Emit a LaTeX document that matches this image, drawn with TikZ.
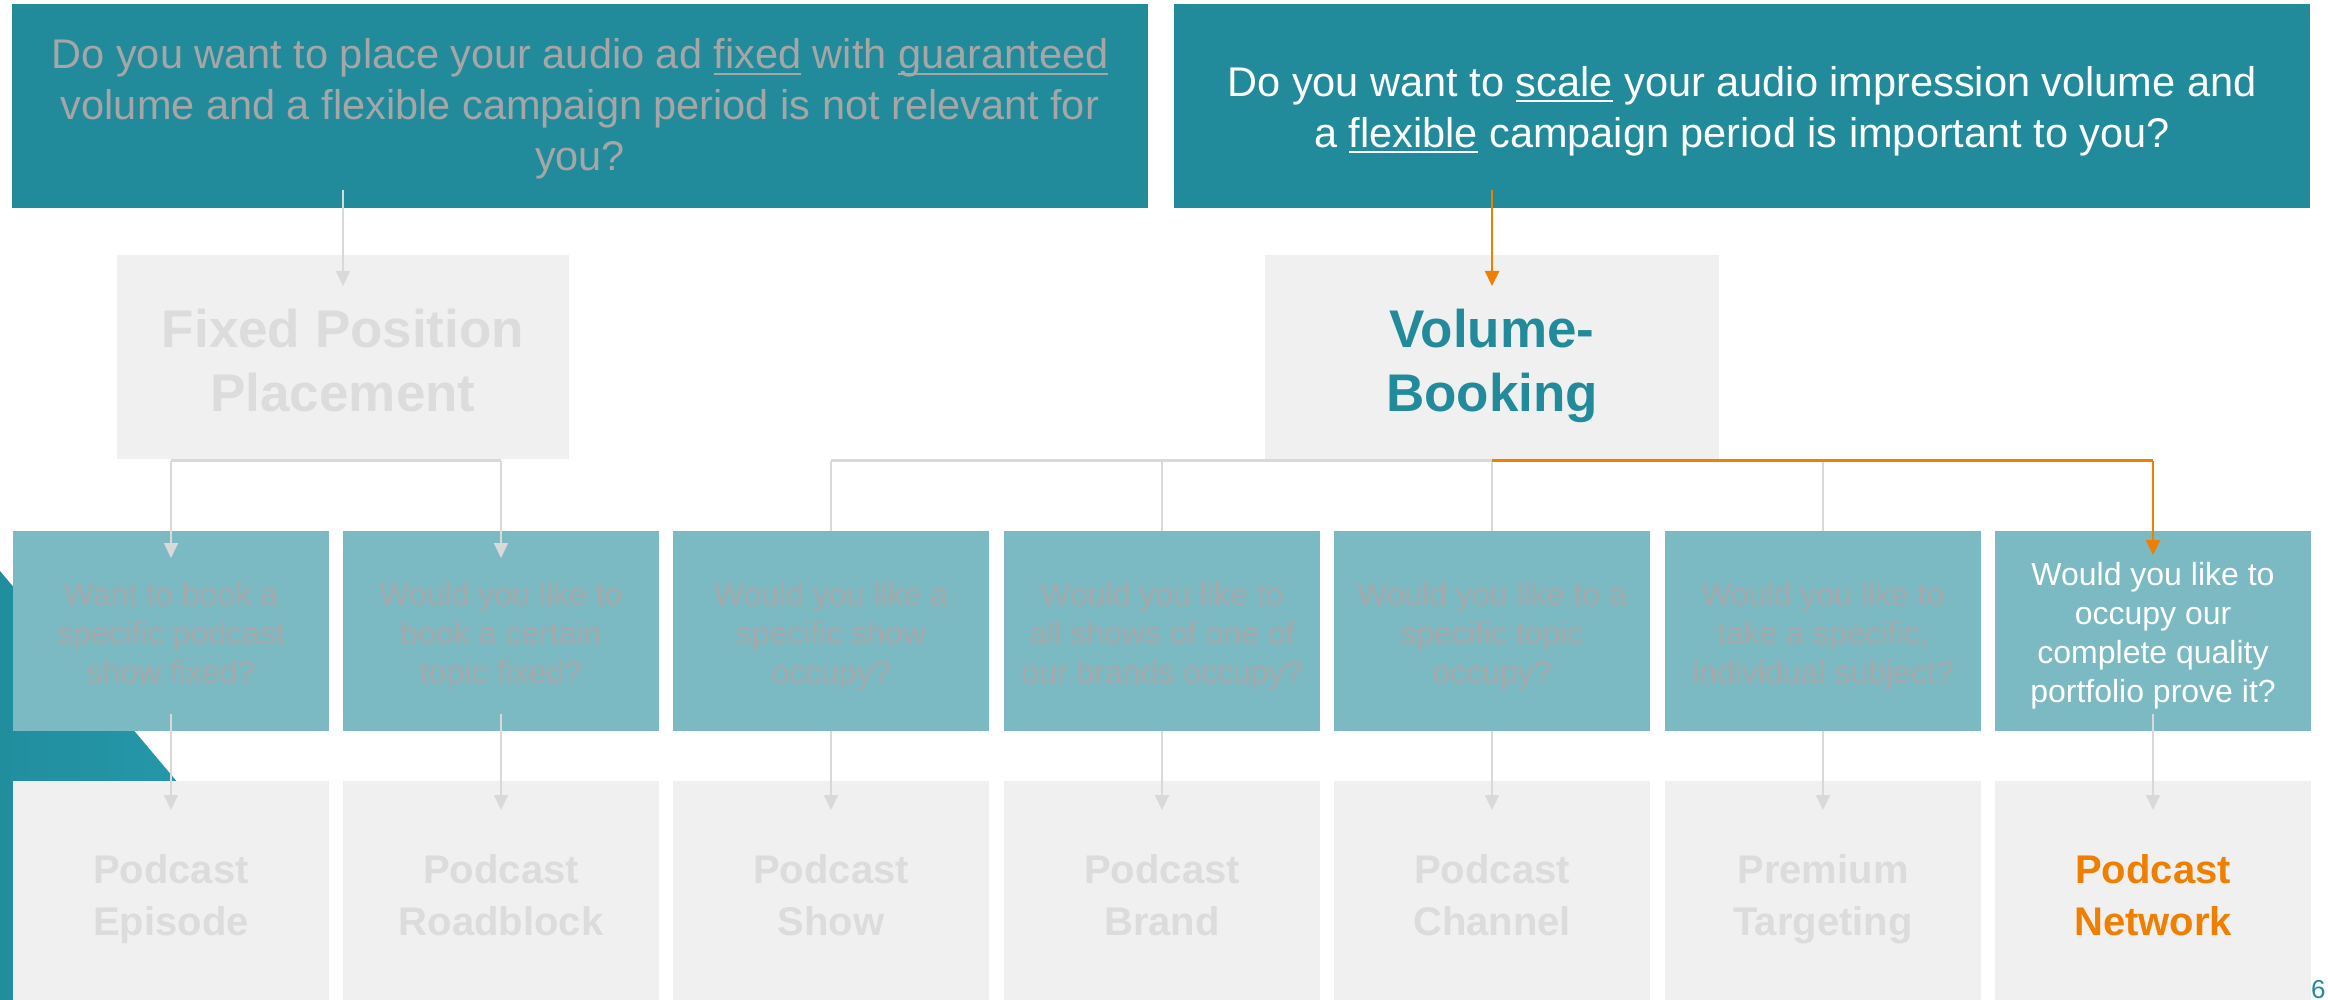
\documentclass[tikz,border=0pt]{standalone}
\usepackage{fontspec}
\setmainfont{Liberation Sans}
\usetikzlibrary{arrows.meta}
\definecolor{tealdark}{HTML}{218B9C}
\definecolor{teallight}{HTML}{7BB9C3}
\definecolor{boxgray}{HTML}{F0F0F0}
\definecolor{fadetext}{HTML}{A6A6A6}
\definecolor{fademid}{HTML}{A6A9AB}
\definecolor{fadelight}{HTML}{DCDCDC}
\definecolor{linegray}{HTML}{D9D9D9}
\definecolor{accent}{HTML}{EE7F00}
\definecolor{triA}{HTML}{218E9E}
\definecolor{triB}{HTML}{2599AA}
\newcommand\myul[1]{\setbox0=\hbox{#1}\rlap{\rule[-6pt]{\wd0}{2pt}}\box0\relax}
\newcommand\topstr[1]{\rule{0pt}{#1}}
\newcommand\botstr[1]{\rule[-#1]{0pt}{#1}}
\begin{document}
\begin{tikzpicture}[x=1pt,y=-1pt,
  every node/.style={inner sep=0pt, outer sep=0pt},
  qbox/.style={rectangle, fill=tealdark, anchor=north west, minimum width=1136pt, minimum height=204pt, align=center, font=\fontsize{41.5}{51}\selectfont},
  catbox/.style={rectangle, fill=boxgray, anchor=north west, minimum height=204pt, align=center, font=\bfseries\fontsize{53}{64}\selectfont},
  midbox/.style={rectangle, fill=teallight, anchor=north west, minimum width=316pt, minimum height=200pt, align=center, text=fademid, font=\fontsize{32}{39}\selectfont},
  endbox/.style={rectangle, fill=boxgray, anchor=north west, minimum width=316pt, minimum height=219pt, align=center, text=fadelight, font=\bfseries\fontsize{40}{52}\selectfont},
  conn/.style={draw=linegray, line width=2pt, -{Triangle[length=15pt,width=14pt]}},
  plainline/.style={draw=linegray, line width=2pt},
  hline/.style={draw=linegray, line width=2.5pt},
  oconn/.style={draw=accent, line width=2.5pt, -{Triangle[length=15pt,width=14pt]}},
  oline/.style={draw=accent, line width=2.5pt},
]
\fill[white] (0,0) rectangle (2328,1000);
\useasboundingbox (0,0) rectangle (2328,1000);
% decorative wedge
\shade[left color=triA, right color=triB] (0,571) -- (210,821) -- (210,1000) -- (0,1000) -- cycle;

% question boxes
\node[qbox, text=fadetext] (q1) at (12,4) {\topstr{38pt}Do you want to place your audio ad \myul{fixed} with \myul{guaranteed}\\volume and a flexible campaign period is not relevant for\\you?\botstr{10pt}};
\node[qbox, text=white] (q2) at (1174,4) {\topstr{42pt}Do you want to \myul{scale} your audio impression volume and\\a \myul{flexible} campaign period is important to you?\botstr{10pt}};

% category boxes
\node[catbox, minimum width=452pt, text=fadelight] (fix) at (117,255) {\topstr{56pt}Fixed Position\\Placement\botstr{12pt}};
\node[catbox, minimum width=454pt, text=tealdark] (vol) at (1265,255) {\topstr{56pt}Volume-\\Booking\botstr{12pt}};

% middle question boxes
\node[midbox] (m1) at (13,531) {\topstr{33pt}Want to book a\\specific podcast\\show fixed?\botstr{7pt}};
\node[midbox] (m2) at (343,531) {\topstr{33pt}Would you like to\\book a certain\\topic fixed?\botstr{7pt}};
\node[midbox] (m3) at (673,531) {\topstr{33pt}Would you like a\\specific show\\occupy?\botstr{7pt}};
\node[midbox] (m4) at (1004,531) {\topstr{33pt}Would you like to\\all shows of one of\\our brands occupy?\botstr{7pt}};
\node[midbox] (m5) at (1334,531) {\topstr{33pt}Would you like to a\\specific topic\\occupy?\botstr{7pt}};
\node[midbox] (m6) at (1665,531) {\topstr{33pt}Would you like to\\take a specific,\\individual subject?\botstr{7pt}};
\node[midbox, text=white] (m7) at (1995,531) {\topstr{33pt}Would you like to\\occupy our\\complete quality\\portfolio prove it?\botstr{7pt}};

% end boxes
\node[endbox] (b1) at (13,781) {\topstr{46pt}Podcast\\Episode\botstr{9pt}};
\node[endbox] (b2) at (343,781) {\topstr{46pt}Podcast\\Roadblock\botstr{9pt}};
\node[endbox] (b3) at (673,781) {\topstr{46pt}Podcast\\Show\botstr{9pt}};
\node[endbox] (b4) at (1004,781) {\topstr{46pt}Podcast\\Brand\botstr{9pt}};
\node[endbox] (b5) at (1334,781) {\topstr{46pt}Podcast\\Channel\botstr{9pt}};
\node[endbox] (b6) at (1665,781) {\topstr{46pt}Premium\\Targeting\botstr{9pt}};
\node[endbox, text=accent] (b7) at (1995,781) {\topstr{46pt}Podcast\\Network\botstr{9pt}};

% page number
\node[anchor=base west, text=tealdark, font=\fontsize{26}{26}\selectfont] (pg) at (2311,998) {6};

% connectors: top
\draw[conn, shorten <=-18pt, shorten >=-31pt] (q1.south -| fix.north) -- (fix.north);
\draw[oconn, shorten <=-18pt, shorten >=-31pt] (q2.south -| vol.north) -- (vol.north);

% fixed tree
\coordinate (fxb) at ([yshift=-1.5pt]fix.south);
\draw[hline] (fxb -| m1.north) -- (fxb -| m2.north);
\draw[conn, shorten >=-27pt] (fxb -| m1.north) -- (m1.north);
\draw[conn, shorten >=-27pt] (fxb -| m2.north) -- (m2.north);

% volume tree
\coordinate (vlb) at ([yshift=-1.5pt]vol.south);
\draw[hline] (vlb -| m3.north) -- (vlb);
\draw[plainline] (vlb -| m3.north) -- (m3.north);
\draw[plainline] (vlb -| m4.north) -- (m4.north);
\draw[plainline] (vlb -| m5.north) -- (m5.north);
\draw[plainline] (vlb -| m6.north) -- (m6.north);
\draw[oline] (vlb) -- (vlb -| m7.north);
\draw[oconn, shorten >=-24pt] (vlb -| m7.north) -- (m7.north);

% middle to end
\draw[conn, shorten <=-17pt, shorten >=-29pt] (m1.south) -- (b1.north);
\draw[conn, shorten <=-17pt, shorten >=-29pt] (m2.south) -- (b2.north);
\draw[conn, shorten >=-29pt] (m3.south) -- (b3.north);
\draw[conn, shorten >=-29pt] (m4.south) -- (b4.north);
\draw[conn, shorten >=-29pt] (m5.south) -- (b5.north);
\draw[conn, shorten >=-29pt] (m6.south) -- (b6.north);
\draw[conn, shorten <=-17pt, shorten >=-29pt] (m7.south) -- (b7.north);
\end{tikzpicture}
\end{document}
